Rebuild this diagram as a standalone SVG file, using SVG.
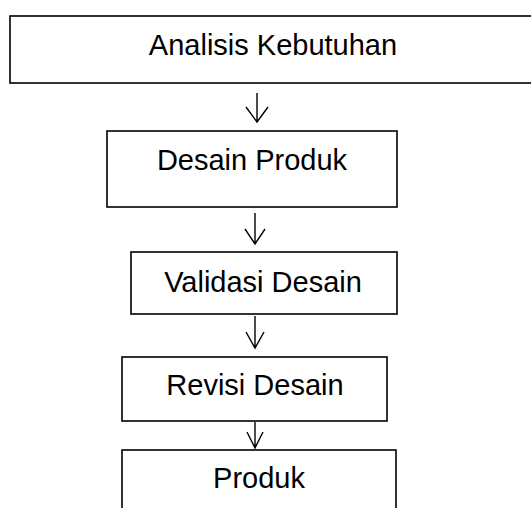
<svg xmlns="http://www.w3.org/2000/svg" width="531" height="508" viewBox="0 0 531 508">
<style>
.box{fill:#fff;stroke:#000;stroke-width:1.6}
.lbl{font-family:"Liberation Sans",Arial,sans-serif;font-size:29px;fill:#000;text-anchor:middle}
.arr{fill:none;stroke:#000;stroke-width:1.4}
</style>
<rect width="531" height="508" fill="#fff"/>
<g id="n1"><rect class="box" x="10" y="16" width="530" height="67"/><text class="lbl" x="273" y="55">Analisis Kebutuhan</text></g>
<g id="n2"><rect class="box" x="107" y="131" width="290" height="76"/><text class="lbl" x="252" y="170">Desain Produk</text></g>
<g id="n3"><rect class="box" x="131" y="252" width="266" height="62"/><text class="lbl" x="263" y="292">Validasi Desain</text></g>
<g id="n4"><rect class="box" x="122" y="357" width="265" height="64"/><text class="lbl" x="255" y="395">Revisi Desain</text></g>
<g id="n5"><rect class="box" x="122" y="450" width="274" height="70"/><text class="lbl" x="259" y="488">Produk</text></g>
<g id="connectors">
<path class="arr" d="M257 93V122M246 107L257 122L268 107"/>
<path class="arr" d="M255 213V244M245 229L255 244L265 229"/>
<path class="arr" d="M255 316V348M246 332L255 348L264 332"/>
<path class="arr" d="M255 422V448M247 432L255 448L263 432"/>
</g>
</svg>
